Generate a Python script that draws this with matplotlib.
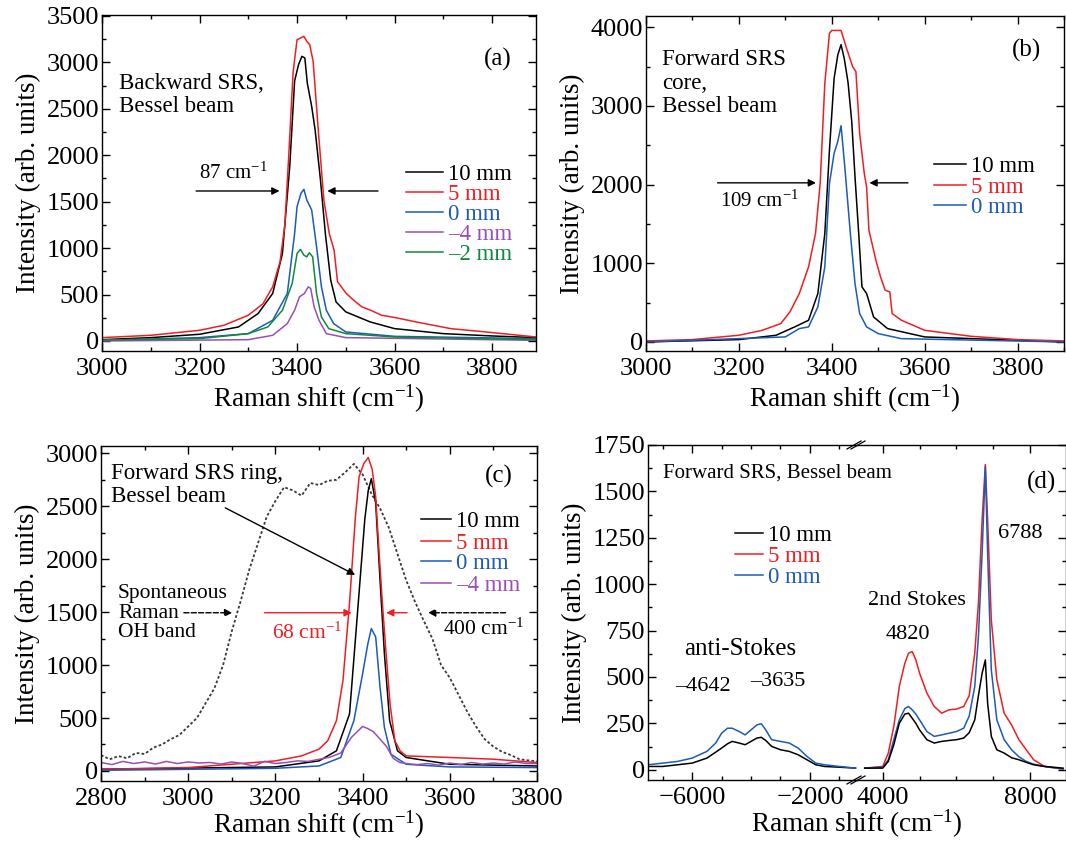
import numpy as np
import matplotlib.pyplot as plt
from matplotlib.ticker import MultipleLocator, FixedLocator

plt.rcParams['font.family'] = ['Liberation Serif', 'DejaVu Serif']
plt.rcParams['mathtext.fontset'] = 'custom'
plt.rcParams['mathtext.rm'] = 'Liberation Serif'
plt.rcParams['mathtext.it'] = 'Liberation Serif:italic'
plt.rcParams['axes.linewidth'] = 1.0

BLACK = 'black'
RED = '#f01e23'
BLUE = '#1d5bb5'
PURPLE = '#9a4fb2'
GREEN = '#0f8a3c'
GREY = '#3a3a3a'

# ---- panel (a): backward SRS ----
a_x_10 = [3000, 3100, 3200, 3280, 3320, 3350, 3370, 3385, 3395, 3403, 3410, 3416, 3421, 3430, 3437, 3448, 3458, 3469, 3480, 3500, 3550, 3600, 3700, 3800, 3890]
a_y_10 = [14, 36, 72, 151, 295, 511, 942, 1878, 2800, 2975, 3065, 3047, 2777, 2525, 2273, 1734, 1158, 655, 420, 313, 205, 133, 79, 54, 36]
a_x_5 = [3000, 3100, 3200, 3250, 3300, 3330, 3350, 3365, 3375, 3383, 3392, 3400, 3414, 3420, 3426, 3433, 3444, 3455, 3466, 3476, 3483, 3501, 3516, 3533, 3551, 3573, 3601, 3644, 3715, 3787, 3890]
a_y_5 = [36, 61, 115, 169, 277, 400, 583, 850, 1250, 2000, 2900, 3244, 3280, 3226, 3190, 3010, 2237, 1518, 1158, 978, 637, 511, 439, 367, 331, 277, 252, 205, 133, 97, 43]
a_x_0 = [3000, 3200, 3300, 3350, 3380, 3395, 3400, 3408, 3414, 3420, 3430, 3440, 3450, 3460, 3475, 3500, 3600, 3890]
a_y_0 = [7, 36, 79, 223, 511, 1158, 1446, 1590, 1633, 1518, 1410, 1014, 583, 331, 187, 97, 50, 25]
a_x_m4 = [3000, 3300, 3350, 3380, 3395, 3405, 3415, 3423, 3428, 3435, 3445, 3460, 3500, 3890]
a_y_m4 = [0, 14, 61, 187, 331, 475, 511, 583, 565, 367, 223, 79, 36, 7]
a_x_m2 = [3000, 3200, 3300, 3340, 3370, 3390, 3400, 3407, 3414, 3420, 3425, 3432, 3440, 3450, 3465, 3500, 3600, 3890]
a_y_m2 = [10, 25, 79, 151, 331, 619, 942, 986, 924, 906, 950, 906, 511, 259, 133, 79, 43, 14]

# ---- panel (b): forward SRS core ----
b_x_10 = [3000, 3200, 3280, 3320, 3350, 3370, 3385, 3395, 3405, 3413, 3420, 3427, 3435, 3443, 3450, 3458, 3465, 3475, 3490, 3520, 3600, 3900]
b_y_10 = [0, 30, 85, 191, 276, 615, 1379, 2439, 3350, 3650, 3780, 3600, 3300, 2800, 2100, 1379, 700, 615, 318, 170, 64, 0]
b_x_5 = [3000, 3100, 3200, 3250, 3290, 3310, 3330, 3350, 3365, 3375, 3385, 3395, 3400, 3420, 3433, 3445, 3452, 3460, 3470, 3475, 3480, 3495, 3505, 3515, 3525, 3530, 3550, 3600, 3700, 3800, 3900]
b_y_5 = [13, 30, 85, 148, 233, 382, 615, 954, 1379, 2015, 3288, 3924, 3960, 3960, 3712, 3500, 3436, 2651, 2142, 1972, 1421, 1039, 827, 658, 636, 361, 276, 148, 72, 30, 13]
b_x_0 = [3000, 3300, 3330, 3350, 3370, 3385, 3395, 3405, 3413, 3420, 3428, 3440, 3450, 3460, 3475, 3500, 3550, 3900]
b_y_0 = [0, 64, 170, 191, 445, 954, 2015, 2397, 2550, 2750, 2227, 1379, 742, 361, 191, 106, 42, 0]

# ---- panel (c): forward SRS ring + spontaneous Raman ----
c_x_10 = [2800, 3200, 3300, 3340, 3370, 3390, 3405, 3413, 3420, 3430, 3440, 3450, 3462, 3480, 3500, 3600, 3800]
c_y_10 = [16, 38, 95, 190, 538, 1582, 2374, 2650, 2760, 2532, 1804, 1108, 475, 190, 127, 63, 47]
c_x_5 = [2800, 3000, 3200, 3260, 3300, 3320, 3340, 3355, 3370, 3383, 3392, 3403, 3413, 3422, 3430, 3438, 3446, 3454, 3463, 3474, 3486, 3500, 3600, 3700, 3800]
c_y_5 = [16, 32, 95, 142, 206, 285, 475, 855, 1582, 2374, 2780, 2905, 2960, 2848, 2590, 2053, 1547, 1105, 632, 284, 190, 142, 127, 111, 79]
c_x_0 = [2800, 3200, 3300, 3350, 3380, 3400, 3412, 3420, 3430, 3440, 3450, 3465, 3500, 3600, 3800]
c_y_0 = [6, 25, 47, 127, 475, 918, 1200, 1345, 1266, 791, 411, 158, 63, 38, 32]
c_x_m4 = [2800, 2825, 2850, 2875, 2900, 2925, 2950, 2975, 3000, 3025, 3050, 3075, 3100, 3125, 3150, 3175, 3200, 3225, 3250, 3275, 3300, 3325, 3350, 3375, 3400, 3412, 3425, 3440, 3455, 3470, 3485, 3500, 3525, 3550, 3575, 3600, 3625, 3650, 3675, 3700, 3725, 3750, 3775, 3800]
c_y_m4 = [80, 60, 90, 70, 85, 65, 90, 70, 85, 75, 80, 65, 85, 70, 45, 90, 70, 80, 95, 90, 110, 130, 170, 320, 420, 400, 370, 300, 230, 120, 80, 70, 60, 70, 55, 75, 60, 80, 65, 75, 65, 85, 70, 70]
c_x_oh = [2800, 2820, 2840, 2860, 2880, 2900, 2920, 2940, 2960, 2980, 3000, 3020, 3040, 3060, 3080, 3100, 3120, 3140, 3160, 3180, 3200, 3220, 3240, 3260, 3280, 3300, 3320, 3340, 3360, 3380, 3400, 3420, 3440, 3460, 3480, 3500, 3520, 3540, 3560, 3580, 3600, 3620, 3640, 3660, 3680, 3700, 3720, 3740, 3760, 3780, 3800]
c_y_oh = [150, 110, 140, 120, 170, 160, 220, 250, 300, 340, 420, 500, 640, 780, 1000, 1320, 1600, 1900, 2150, 2400, 2550, 2680, 2650, 2600, 2720, 2700, 2740, 2750, 2820, 2900, 2800, 2620, 2480, 2300, 2050, 1800, 1600, 1420, 1250, 1000, 880, 720, 560, 420, 300, 230, 180, 150, 110, 100, 90]

# ---- panel (d): anti-Stokes (left) and Stokes (right) ----
dl_x = [-7500, -7000, -6500, -6000, -5500, -5200, -5000, -4800, -4642, -4400, -4200, -4000, -3800, -3650, -3500, -3300, -3000, -2700, -2400, -2100, -1800, -1500, -1000, -450]
dl_y_0 = [27, 36, 45, 63, 99, 144, 197, 224, 224, 206, 188, 215, 242, 248, 215, 162, 153, 144, 117, 72, 36, 27, 18, 9]
dl_y_10 = [18, 18, 27, 36, 63, 95, 117, 140, 153, 144, 135, 153, 171, 175, 158, 126, 108, 99, 81, 54, 27, 18, 14, 9]
dr_x = [3510, 4000, 4150, 4300, 4450, 4600, 4700, 4800, 4900, 5000, 5200, 5400, 5600, 5800, 6000, 6200, 6350, 6500, 6600, 6700, 6788, 6850, 6950, 7100, 7300, 7500, 7700, 7900, 8100, 8400, 8900]
dr_y_5 = [9, 18, 90, 233, 449, 574, 628, 637, 592, 521, 413, 341, 305, 323, 327, 341, 400, 628, 898, 1346, 1645, 1346, 808, 485, 305, 242, 162, 108, 54, 18, 4]
dr_y_0 = [9, 14, 54, 162, 269, 330, 341, 323, 300, 269, 206, 180, 188, 197, 206, 224, 290, 449, 718, 1167, 1633, 1167, 539, 269, 162, 108, 70, 45, 30, 18, 4]
dr_y_10 = [9, 9, 45, 135, 251, 300, 305, 278, 250, 215, 162, 144, 153, 158, 162, 171, 200, 269, 400, 520, 592, 359, 180, 108, 90, 65, 54, 40, 27, 18, 9]

LW = 1.1
TICK = 19
LAB = 19.5
ANN = 16.5
LEG = 16.5
W, H = 1066, 842
fig = plt.figure(figsize=(W / 100, H / 100), dpi=100)


def box(l, t, r, b):
    return fig.add_axes([l / W, 1 - b / H, (r - l) / W, (b - t) / H])


def ticks(ax):
    ax.tick_params(which='both', direction='in', top=True, right=True, labelsize=TICK, width=1)
    ax.tick_params(which='major', length=6)
    ax.tick_params(which='minor', length=3)
    ax.tick_params(axis='x', pad=5)
    ax.tick_params(axis='y', pad=2)


def style(ax, xmaj, xmin, ymaj, ymin, xpad=2):
    ax.xaxis.set_major_locator(MultipleLocator(xmaj))
    ax.xaxis.set_minor_locator(MultipleLocator(xmin))
    ax.yaxis.set_major_locator(MultipleLocator(ymaj))
    ax.yaxis.set_minor_locator(MultipleLocator(ymin))
    ticks(ax)
    ax.set_xlabel(XLAB, fontsize=LAB, labelpad=xpad)
    ax.set_ylabel(YLAB, fontsize=LAB, labelpad=4)


def arrow(ax, tail, head, color='black', ls='-'):
    ax.annotate('', xy=head, xytext=tail,
                arrowprops=dict(arrowstyle='-|>', color=color, lw=1.0, ls=ls,
                                mutation_scale=11, shrinkA=0, shrinkB=0))


def legend(colors, labels, x0, x1, rows):
    # hand-placed legend, positions in figure pixels
    for c, lab, y in zip(colors, labels, rows):
        fig.add_artist(plt.Line2D([x0 / W, x1 / W], [1 - y / H, 1 - y / H], color=c, lw=LW))
        fig.text((x1 + 5) / W, 1 - y / H, lab, color=c, fontsize=LEG, va='center_baseline')


XLAB = 'Raman shift (cm$^{-1}$)'
YLAB = 'Intensity (arb. units)'

# (a)
ax = box(102, 15, 536, 351)
ax.plot(a_x_10, a_y_10, color=BLACK, lw=LW)
ax.plot(a_x_5, a_y_5, color=RED, lw=LW)
ax.plot(a_x_0, a_y_0, color=BLUE, lw=LW)
ax.plot(a_x_m4, a_y_m4, color=PURPLE, lw=LW)
ax.plot(a_x_m2, a_y_m2, color=GREEN, lw=LW)
ax.set_xlim(3000, 3890)
ax.set_ylim(-108, 3510)
style(ax, 200, 100, 500, 250)
legend([BLACK, RED, BLUE, PURPLE, GREEN], ['10 mm', '5 mm', '0 mm', '–4 mm', '–2 mm'],
       406, 443, [172, 192, 212, 232, 252])
ax.text(3034, 2650, 'Backward SRS,\nBessel beam', fontsize=ANN, va='center', linespacing=1.15)
ax.text(3840, 3030, '(a)', fontsize=18, ha='right', va='center')
ax.text(3198, 1810, '87 cm$^{-1}$', fontsize=15, va='center')
arrow(ax, (3193, 1615), (3364, 1615))
arrow(ax, (3566, 1615), (3462, 1615))

# (b)
ax = box(646, 16, 1064, 351)
ax.plot(b_x_10, b_y_10, color=BLACK, lw=LW)
ax.plot(b_x_5, b_y_5, color=RED, lw=LW)
ax.plot(b_x_0, b_y_0, color=BLUE, lw=LW)
ax.set_xlim(3000, 3900)
ax.set_ylim(-115, 4144)
style(ax, 200, 100, 1000, 500)
legend([BLACK, RED, BLUE], ['10 mm', '5 mm', '0 mm'], 934, 966, [164, 185, 205])
ax.text(3034, 3290, 'Forward SRS\ncore,\nBessel beam', fontsize=ANN, va='center', linespacing=1.15)
ax.text(3850, 3710, '(b)', fontsize=18, ha='right', va='center')
ax.text(3159, 1790, '109 cm$^{-1}$', fontsize=15, va='center')
arrow(ax, (3154, 2023), (3366, 2023))
arrow(ax, (3564, 2023), (3481, 2023))

# (c)
ax = box(101, 446, 537, 781)
ax.plot(c_x_oh, c_y_oh, color=GREY, lw=1.3, ls=(0, (1.5, 1.2)))
ax.plot(c_x_10, c_y_10, color=BLACK, lw=LW)
ax.plot(c_x_5, c_y_5, color=RED, lw=LW)
ax.plot(c_x_0, c_y_0, color=BLUE, lw=LW)
ax.plot(c_x_m4, c_y_m4, color=PURPLE, lw=LW)
ax.set_xlim(2800, 3800)
ax.set_ylim(-95, 3069)
style(ax, 200, 100, 500, 250, xpad=-1)
legend([BLACK, RED, BLUE, PURPLE], ['10 mm', '5 mm', '0 mm', '–4 mm'], 421, 451, [519, 541, 561, 583])
ax.text(2823, 2700, 'Forward SRS ring,\nBessel beam', fontsize=ANN, va='center', linespacing=1.1)
ax.text(3745, 2780, '(c)', fontsize=18, ha='right', va='center')
ax.text(2839, 1490, 'Spontaneous\nRaman\nOH band', fontsize=15.5, va='center', linespacing=1.05)
arrow(ax, (3085, 2485), (3383, 1852))
arrow(ax, (2990, 1494), (3101, 1494), ls='--')
arrow(ax, (3175, 1494), (3375, 1494), color=RED)
arrow(ax, (3502, 1494), (3454, 1494), color=RED)
arrow(ax, (3728, 1494), (3550, 1494), ls='--')
ax.text(3192, 1300, '68 cm$^{-1}$', fontsize=15.5, va='center', color=RED)
ax.text(3585, 1336, '400 cm$^{-1}$', fontsize=15.5, va='center')

# (d) broken x axis
axl = box(648, 445, 857, 780)
axr = box(857, 445, 1066, 780)
axl.plot(dl_x, dl_y_10, color=BLACK, lw=LW)
axl.plot(dl_x, dl_y_0, color=BLUE, lw=LW)
axr.plot(dr_x, dr_y_5, color=RED, lw=LW)
axr.plot(dr_x, dr_y_0, color=BLUE, lw=LW)
axr.plot(dr_x, dr_y_10, color=BLACK, lw=LW)
axl.set_xlim(-7500, -400)
axr.set_xlim(3300, 8980)
for a in (axl, axr):
    a.set_ylim(-55, 1750)
    a.patch.set_visible(False)
    a.yaxis.set_major_locator(MultipleLocator(250))
    a.yaxis.set_minor_locator(MultipleLocator(125))
    a.xaxis.set_minor_locator(MultipleLocator(1000))
    ticks(a)
axl.xaxis.set_major_locator(FixedLocator([-6000, -2000]))
axr.xaxis.set_major_locator(FixedLocator([4000, 8000]))
axl.spines['right'].set_visible(False)
axr.spines['left'].set_visible(False)
axl.tick_params(which='both', right=False)
axr.tick_params(which='both', left=False, labelleft=False)
axl.set_ylabel(YLAB, fontsize=LAB, labelpad=4)
fig.text(857 / W, 1 - 824 / H, XLAB, fontsize=LAB, ha='center', va='center')
legend([BLACK, RED, BLUE], ['10 mm', '5 mm', '0 mm'], 735, 763, [533, 554, 575])
fig.text(663 / W, 1 - 473 / H, 'Forward SRS, Bessel beam', fontsize=15, va='center')
axl.text(-6267, 650, 'anti-Stokes', fontsize=18, va='center')
axl.text(-6580, 449, '–4642', fontsize=16, va='center')
axl.text(-4030, 476, '–3635', fontsize=16, va='center')
axr.text(3597, 910, '2nd Stokes', fontsize=16, va='center')
axr.text(4089, 731, '4820', fontsize=16, va='center')
axr.text(7132, 1274, '6788', fontsize=16, va='center')
axr.text(8700, 1550, '(d)', fontsize=18, ha='right', va='center')
# break marks
for yb in (445, 780):
    for dx in (-2, 2):
        fig.add_artist(plt.Line2D([(849 + dx) / W, (863 + dx) / W],
                                  [1 - (yb + 4) / H, 1 - (yb - 4) / H],
                                  color='black', lw=0.9))

plt.savefig('out.png', dpi=100)
